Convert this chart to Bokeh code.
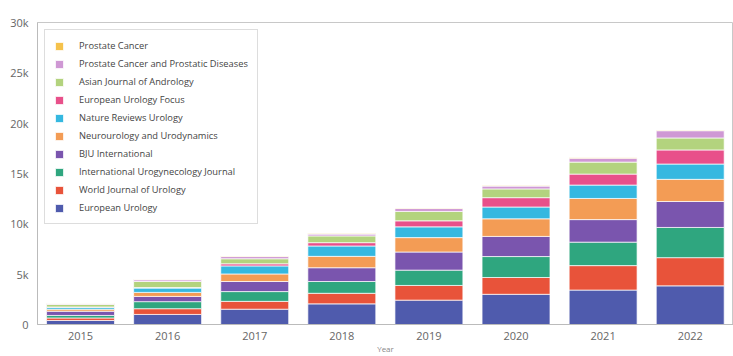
from bokeh.plotting import figure
from bokeh.models import (ColumnDataSource, Range1d, FixedTicker, Legend, LegendItem)
from bokeh.embed import file_html
from bokeh.resources import INLINE

years = [2015, 2016, 2017, 2018, 2019, 2020, 2021, 2022]
year_labels = ["2015", "2016", "2017", "2018", "2019", "2020", "2021", "2022"]

journals = [
    "European Urology",
    "World Journal of Urology",
    "International Urogynecology Journal",
    "BJU International",
    "Neurourology and Urodynamics",
    "Nature Reviews Urology",
    "European Urology Focus",
    "Asian Journal of Andrology",
    "Prostate Cancer and Prostatic Diseases",
    "Prostate Cancer",
]

european_urology = [400, 1000, 1520, 2050, 2420, 3000, 3420, 3840]
world_journal_of_urology = [250, 570, 780, 1050, 1460, 1670, 2430, 2800]
international_urogynecology_journal = [250, 700, 970, 1170, 1520, 2080, 2330, 3000]
bju_international = [420, 520, 1000, 1370, 1800, 2000, 2240, 2580]
neurourology_and_urodynamics = [200, 400, 750, 1130, 1430, 1750, 2100, 2200]
nature_reviews_urology = [200, 430, 800, 1030, 1070, 1170, 1330, 1520]
european_urology_focus = [20, 50, 210, 330, 600, 930, 1090, 1400]
asian_journal_of_andrology = [250, 600, 500, 670, 930, 870, 1190, 1190]
prostate_cancer_and_prostatic_diseases = [80, 170, 220, 180, 290, 280, 390, 720]
prostate_cancer = [20, 30, 50, 50, 50, 50, 50, 50]

colors = ["#4f5bad", "#e8533a", "#2fa67f", "#7a55ae", "#f39c55",
          "#35b8e0", "#e8508a", "#b3d37e", "#cf98d4", "#f5c24c"]

y_ticks = [0, 5000, 10000, 15000, 20000, 25000, 30000]
y_tick_labels = ["0", "5k", "10k", "15k", "20k", "25k", "30k"]

series = [european_urology, world_journal_of_urology, international_urogynecology_journal,
          bju_international, neurourology_and_urodynamics, nature_reviews_urology,
          european_urology_focus, asian_journal_of_andrology,
          prostate_cancer_and_prostatic_diseases, prostate_cancer]

data = {"year": years}
for name, vals in zip(journals, series):
    data[name] = vals
source = ColumnDataSource(data)

p = figure(width=733, height=356, output_backend="svg", toolbar_location=None,
           x_range=Range1d(2014.506, 2022.497), y_range=Range1d(0, 30000),
           min_border_left=37, min_border_top=22, min_border_right=0, min_border_bottom=30)

renderers = p.vbar_stack(journals, x="year", width=0.78, source=source,
                         color=colors, line_color="white", line_width=0.7)

p.xgrid.visible = False
p.ygrid.visible = False
p.outline_line_color = "#c8c8c8"
p.background_fill_color = "white"
p.border_fill_color = "white"

p.xaxis.ticker = FixedTicker(ticks=years)
p.xaxis.major_label_overrides = {y: l for y, l in zip(years, year_labels)}
p.yaxis.ticker = FixedTicker(ticks=y_ticks)
p.yaxis.major_label_overrides = {t: l for t, l in zip(y_ticks, y_tick_labels)}
for ax in (p.xaxis[0], p.yaxis[0]):
    ax.major_tick_line_color = None
    ax.minor_tick_line_color = None
    ax.axis_line_color = "#bbbbbb"
    ax.major_label_text_color = "#666666"
    ax.major_label_text_font = "Open Sans"
    ax.major_label_text_font_size = "11px"
p.xaxis.major_label_standoff = 1
p.yaxis.major_label_standoff = 3

p.xaxis.axis_label = "Year"
p.xaxis.axis_label_standoff = 0
p.xaxis.axis_label_text_font = "Open Sans"
p.xaxis.axis_label_text_font_size = "8px"
p.xaxis.axis_label_text_font_style = "normal"
p.xaxis.axis_label_text_color = "#888888"

items = [LegendItem(label=name, renderers=[r]) for name, r in zip(journals, renderers)]
items.reverse()
legend = Legend(items=items, location="top_left", margin=7, padding=9,
                glyph_width=10, glyph_height=10, label_height=10, spacing=5,
                label_standoff=15, label_text_font="Open Sans",
                label_text_font_size="9.3px", label_text_color="#444444",
                border_line_color="#bbbbbb", border_line_width=1,
                background_fill_color="white", background_fill_alpha=1.0)
p.add_layout(legend, "center")

open("out.html", "w").write(file_html(p, INLINE))
